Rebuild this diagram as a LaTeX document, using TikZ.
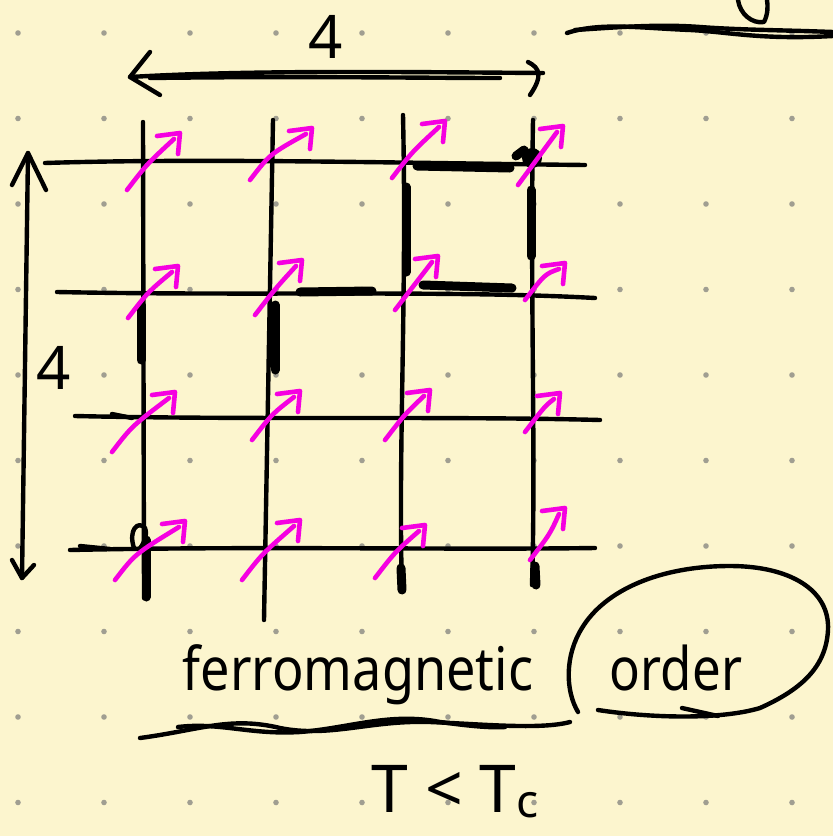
\documentclass[tikz,border=0pt]{standalone}
\usepackage{fontspec}
\setmainfont{Noto Sans}
\definecolor{paper}{RGB}{252,245,206}
\definecolor{spin}{RGB}{245,0,225}
\definecolor{dotc}{RGB}{160,158,145}
\begin{document}
\begin{tikzpicture}[x=1pt,y=-1pt, line cap=round, line join=round,
  ink/.style={draw=black, line width=4.4pt},
  bond/.style={draw=black, line width=9pt},
  spinarrow/.style={draw=spin, line width=4.6pt},
  hand/.style={font=\fontsize{60}{70}\selectfont, inner sep=0pt, text=black}]
\fill[paper] (0,0) rectangle (833,836);
\useasboundingbox (0,0) rectangle (833,836);
% dot grid
\foreach \i in {0,...,9}{\foreach \j in {0,...,9}{
  \fill[dotc] (18+86*\i,33+85.5*\j) circle (2.8pt);}}
% top-right scribble
\draw[ink] (567,33) .. controls (600,22) and (640,28) .. (690,30) .. controls (730,32) and (760,40) .. (833,36);
\draw[ink] (575,30) .. controls (620,27) and (660,24) .. (700,27) .. controls (740,30) and (780,30) .. (833,32);
\draw[ink] (738,0) .. controls (740,14) and (752,24) .. (764,22) .. controls (768,14) and (768,6) .. (767,0);
% top dimension arrow
\coordinate (tl) at (130,77);
\coordinate (tr) at (543,73);
\draw[ink] (tl) .. controls (250,70) and (400,72) .. (tr);
\draw[ink] (150,78) .. controls (300,76) and (420,78) .. (500,78);
\draw[ink] (150,52) -- (tl) -- (160,95);
\draw[ink] (528,62) .. controls (540,68) and (543,76) .. (530,95);
\node[hand] (topfour) at (326,37) {4};
% left dimension arrow
\coordinate (lt) at (28,153);
\coordinate (lb) at (22,578);
\draw[ink] (lt) -- (lb);
\draw[ink] (12,185) -- (lt) -- (46,190);
\draw[ink] (12,560) -- (lb) -- (34,565);
\node[hand] (leftfour) at (54,368) {4};
% grid lines
\draw[ink] (143,122) -- (144,598);
\draw[ink] (273,120) -- (264,620);
\draw[ink] (403,115) .. controls (407,300) and (398,450) .. (402,590);
\draw[ink] (533,120) .. controls (530,300) and (536,450) .. (532,585);
\draw[ink] (45,163) .. controls (200,158) and (400,163) .. (585,165);
\draw[ink] (57,292) .. controls (250,296) and (450,290) .. (595,298);
\draw[ink] (75,416) .. controls (250,420) and (450,416) .. (600,420);
\draw[ink] (70,550) .. controls (250,546) and (450,550) .. (595,548);
% emphasised bonds
\draw[bond] (417,166) -- (510,168);
\draw[bond] (516,156) -- (524,150);
\draw[bond] (406,187) -- (406,272);
\draw[bond] (531,190) -- (531,256);
\draw[bond] (423,285) -- (512,288);
\draw[bond] (300,292) -- (372,291);
\draw[bond] (141,305) -- (141,360);
\draw[bond] (275,305) -- (275,370);
\fill (532,158) circle (10pt);
\draw[bond] (146,540) -- (146,597);
\draw[ink] (112,414) -- (132,418);
\draw[ink] (80,546) -- (110,549);
\draw[ink] (134,548) .. controls (128,530) and (138,520) .. (145,528) .. controls (148,535) and (143,545) .. (140,548);
\draw[bond] (535,566) -- (536,585);
\draw[bond] (401,568) -- (402,590);
% spins
\foreach \tx/\ty/\hx/\hy in {
  127/190/180/133, 250/180/312/128, 392/178/445/121, 518/185/563/126,
  128/318/178/266, 255/315/302/260, 395/310/438/256, 525/300/565/263,
  112/452/175/392, 252/440/300/391, 385/440/430/390, 525/432/560/393,
  115/580/185/521, 242/580/300/520, 375/578/425/525, 530/560/565/508}{
  \draw[spinarrow] (\tx,\ty) .. controls (\tx+20,\ty-26) .. (\hx-6,\hy+6);
  \draw[spinarrow] (\hx-23,\hy+3) -- (\hx,\hy) -- (\hx-2,\hy+21);
}
% texts
\node[hand, anchor=base] (ferro) at (358,690) {\scalebox{0.87}[1]{ferromagnetic}};
\node[hand, anchor=base] (order) at (676,690) {\scalebox{0.85}[1]{order}};
\node[hand, anchor=base, font=\fontsize{66}{74}\selectfont] (cond) at (455,812) {T < T\raisebox{-5pt}{\fontsize{46}{50}\selectfont c}};
% underline
\draw[ink] (140,738) .. controls (200,730) and (230,716) .. (280,728) .. controls (330,738) and (370,720) .. (430,722) .. controls (480,724) and (540,730) .. (570,722);
\draw[ink] (178,727) .. controls (220,722) and (250,735) .. (300,732) .. controls (350,728) and (390,712) .. (440,722) .. controls (470,726) and (490,728) .. (505,727);
% loop around "order"
\draw[ink] (578,712) .. controls (565,690) and (565,655) .. (582,628)
  .. controls (605,590) and (660,566) .. (730,566)
  .. controls (790,566) and (830,590) .. (828,630)
  .. controls (826,668) and (800,690) .. (760,708)
  .. controls (720,720) and (650,718) .. (598,710);
\draw[ink] (682,708) -- (718,716);
\end{tikzpicture}
\end{document}
